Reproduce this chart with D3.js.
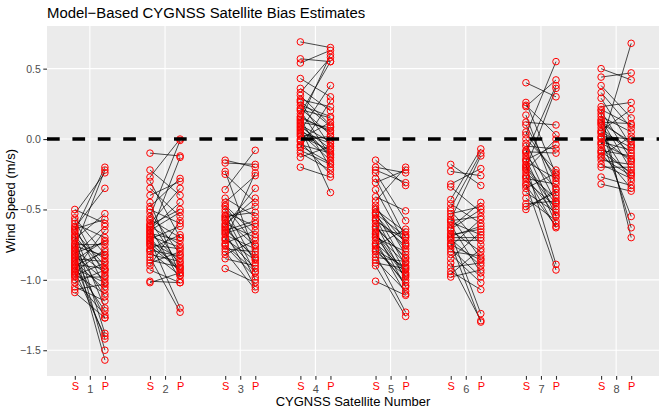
<!DOCTYPE html>
<html><head><meta charset="utf-8">
<script src="https://cdn.jsdelivr.net/npm/d3@7"></script>
<style>body{margin:0;background:#fff}text{font-family:"Liberation Sans",Arial,sans-serif}</style>
</head><body><svg id="c" width="664" height="415"></svg>
<script>
const satellites = [1,2,3,4,5,6,7,8];
const tickLabels = ["S","P"];
// S (satellite) and P (paired) bias estimates per satellite, pairwise
const sVals = [
 [-0.50,-0.53,-0.56,-0.58,-0.60,-0.62,-0.63,-0.65,-0.66,-0.68,-0.70,-0.71,-0.72,-0.74,-0.75,-0.77,-0.78,-0.79,-0.80,-0.82,-0.83,-0.84,-0.85,-0.86,-0.87,-0.88,-0.89,-0.90,-0.91,-0.92,-0.93,-0.95,-0.96,-0.97,-0.98,-1.00,-1.02,-1.05,-1.07,-1.09,-0.76,-0.81,-0.69,-0.94,-0.64],
 [-0.10,-0.22,-0.27,-0.30,-0.35,-0.40,-0.45,-0.48,-0.50,-0.52,-0.55,-0.57,-0.58,-0.60,-0.62,-0.63,-0.65,-0.66,-0.67,-0.68,-0.70,-0.71,-0.72,-0.73,-0.75,-0.76,-0.78,-0.80,-0.82,-0.84,-0.86,-0.88,-0.90,-0.93,-1.01,-1.02,-0.64,-0.69,-0.74,-0.61,-0.79],
 [-0.15,-0.17,-0.23,-0.25,-0.36,-0.42,-0.45,-0.48,-0.50,-0.52,-0.54,-0.56,-0.58,-0.60,-0.62,-0.63,-0.65,-0.66,-0.68,-0.70,-0.72,-0.74,-0.76,-0.78,-0.80,-0.82,-0.85,-0.92,-0.55,-0.61,-0.67,-0.71,-0.47,-0.57,-0.75,-0.64],
 [0.69,0.57,0.54,0.43,0.36,0.33,0.31,0.28,0.26,0.24,0.22,0.20,0.18,0.16,0.14,0.12,0.10,0.08,0.06,0.04,0.03,0.02,0.00,-0.02,-0.04,-0.06,-0.08,-0.10,-0.13,-0.20,0.15,0.11,0.05,-0.01,0.21,0.09,0.27,-0.05,0.13,0.07],
 [-0.15,-0.20,-0.22,-0.24,-0.28,-0.31,-0.36,-0.41,-0.44,-0.47,-0.50,-0.52,-0.54,-0.56,-0.58,-0.60,-0.62,-0.64,-0.66,-0.68,-0.70,-0.72,-0.74,-0.76,-0.78,-0.80,-0.82,-0.84,-0.86,-0.88,-0.90,-1.01,-0.57,-0.63,-0.69,-0.75,-0.49,-0.79,-0.53,-0.67],
 [-0.18,-0.23,-0.32,-0.34,-0.43,-0.46,-0.49,-0.51,-0.53,-0.55,-0.57,-0.59,-0.61,-0.63,-0.65,-0.67,-0.69,-0.71,-0.72,-0.74,-0.76,-0.78,-0.80,-0.82,-0.85,-0.88,-0.91,-0.94,-0.96,-0.98,-0.64,-0.70,-0.58,-0.75,-0.68],
 [0.40,0.26,0.24,0.23,0.17,0.12,0.10,0.03,0.00,-0.03,-0.05,-0.08,-0.10,-0.12,-0.14,-0.16,-0.18,-0.20,-0.22,-0.24,-0.26,-0.28,-0.30,-0.32,-0.35,-0.38,-0.42,-0.46,-0.48,-0.50,-0.15,-0.21,-0.09,-0.27,0.05,-0.33,-0.19],
 [0.50,0.44,0.38,0.33,0.29,0.23,0.20,0.18,0.16,0.14,0.12,0.10,0.08,0.06,0.04,0.02,0.00,-0.02,-0.04,-0.06,-0.08,-0.10,-0.12,-0.15,-0.18,-0.20,-0.27,-0.32,0.11,0.05,-0.03,0.21,-0.09,0.13,0.01,-0.13]
];
const pVals = [
 [-0.60,-0.24,-0.82,-0.97,-0.70,-1.05,-0.35,-0.20,-0.90,-1.20,-1.38,-0.53,-0.85,-1.50,-0.75,-0.22,-1.12,-0.95,-1.57,-0.62,-1.00,-1.27,-0.87,-0.72,-1.07,-1.42,-0.92,-0.80,-1.22,-1.02,-0.65,-0.78,-1.10,-0.88,-0.98,-1.25,-0.93,-1.15,-1.03,-1.27,-0.83,-0.73,-0.93,-1.40,-0.57],
 [-0.12,-0.40,0.00,-0.70,-0.55,-0.30,-0.97,-0.28,-0.60,-0.82,-0.01,-0.70,-0.90,-0.35,-0.75,-1.00,-0.52,-0.88,-0.72,-0.13,-0.95,-0.62,-1.20,-0.85,-0.78,-0.93,-0.68,-0.97,-0.87,-1.23,-0.91,-0.80,-0.58,-1.02,-1.02,-0.95,-0.45,-0.77,-0.92,-0.50,-0.83],
 [-0.20,-0.18,-0.82,-0.45,-0.08,-0.55,-0.26,-0.75,-0.88,-0.62,-0.95,-0.48,-1.00,-0.70,-0.35,-0.85,-0.58,-1.05,-0.78,-0.92,-0.24,-0.65,-0.98,-0.80,-1.07,-0.72,-0.90,-1.02,-0.52,-0.42,-0.60,-0.86,-0.68,-0.76,-0.94,-0.84],
 [0.65,0.55,0.63,0.30,0.20,0.58,0.10,0.23,-0.05,0.16,0.03,-0.12,0.55,0.05,-0.20,0.08,-0.02,-0.38,0.38,-0.15,0.00,-0.08,0.12,-0.25,-0.10,0.27,-0.18,-0.22,-0.05,-0.27,0.06,-0.13,-0.03,0.02,0.15,-0.07,0.09,-0.17,0.60,-0.11],
 [-0.33,-0.24,-0.31,-0.58,-0.70,-0.22,-0.75,-0.51,-0.20,-0.82,-0.66,-0.90,-0.78,-0.95,-0.72,-1.00,-0.85,-0.68,-1.05,-0.88,-0.80,-1.10,-0.93,-0.64,-1.02,-0.97,-1.23,-0.87,-1.08,-0.92,-1.26,-1.11,-0.76,-0.84,-0.98,-1.04,-0.74,-0.91,-0.69,-0.96],
 [-0.33,-0.26,-0.21,-0.52,-0.07,-0.60,-0.10,-0.75,-0.48,-0.85,-0.12,-0.68,-0.95,-0.45,-0.80,-1.24,-0.62,-0.90,-0.72,-1.30,-0.57,-0.98,-0.83,-1.02,-0.66,-1.29,-0.88,-1.07,-0.78,-0.93,-0.50,-0.70,-0.55,-0.86,-0.64],
 [0.30,-0.25,0.03,0.42,-0.40,0.10,-0.30,0.55,-0.22,-0.45,-0.07,-0.55,0.38,-0.35,-0.60,-0.28,-0.89,-0.50,0.00,-0.42,-0.63,-0.32,-0.48,-0.93,-0.24,-0.52,-0.58,-0.44,-0.38,-0.36,-0.04,0.36,-0.10,-0.54,-0.27,-0.62,-0.46],
 [0.42,0.47,0.15,0.08,-0.05,0.26,-0.15,-0.70,0.05,-0.22,0.11,-0.63,-0.10,0.21,-0.30,0.00,-0.55,-0.08,0.68,-0.25,-0.12,-0.35,0.02,-0.18,-0.28,-0.20,-0.33,-0.37,-0.02,-0.06,-0.14,0.10,-0.24,-0.04,-0.16,-0.26]
];
const yTicks = [0.5, 0.0, -0.5, -1.0, -1.5];
const offset = 0.2;

const svg = d3.select("#c");
const W = 664, H = 415;
const m = {l:47, r:5, t:26, b:39};
const pw = W - m.l - m.r, ph = H - m.t - m.b;

const pairs = [];
satellites.forEach((s,i)=> sVals[i].forEach((v,j)=> pairs.push({sat:s, s:v, p:pVals[i][j]})));
const allY = pairs.flatMap(d=>[d.s,d.p]);
const yMin = d3.min(allY), yMax = d3.max(allY);
const xMin = satellites[0]-offset, xMax = satellites[satellites.length-1]+offset;
const ex = (xMax-xMin)*0.05, ey = (yMax-yMin)*0.05;
const x = d3.scaleLinear().domain([xMin-ex, xMax+ex]).range([m.l, m.l+pw]);
const y = d3.scaleLinear().domain([yMin-ey, yMax+ey]).range([m.t+ph, m.t]);

svg.append("rect").attr("width",W).attr("height",H).attr("fill","#fff");
svg.append("rect").attr("x",m.l).attr("y",m.t).attr("width",pw).attr("height",ph).attr("fill","#EBEBEB");
const g = svg.append("g");
g.selectAll(".hg").data(yTicks).join("line").attr("x1",m.l).attr("x2",m.l+pw)
  .attr("y1",d=>y(d)).attr("y2",d=>y(d)).attr("stroke","#fff").attr("stroke-width",1.1);
g.selectAll(".vg").data(satellites).join("line").attr("y1",m.t).attr("y2",m.t+ph)
  .attr("x1",d=>x(d)).attr("x2",d=>x(d)).attr("stroke","#fff").attr("stroke-width",1.1);

// connecting lines
g.selectAll(".seg").data(pairs).join("line")
  .attr("x1",d=>x(d.sat-offset)).attr("x2",d=>x(d.sat+offset))
  .attr("y1",d=>y(d.s)).attr("y2",d=>y(d.p))
  .attr("stroke","#000").attr("stroke-width",0.7);
const pts = pairs.flatMap(d=>[{x:d.sat-offset,y:d.s},{x:d.sat+offset,y:d.p}]);
g.selectAll(".pt").data(pts).join("circle")
  .attr("cx",d=>x(d.x)).attr("cy",d=>y(d.y)).attr("r",3.3)
  .attr("fill","none").attr("stroke","#FF0000").attr("stroke-width",1);

// dashed zero line
g.append("line").attr("x1",m.l).attr("x2",m.l+pw).attr("y1",y(0)).attr("y2",y(0))
  .attr("stroke","#000").attr("stroke-width",3.6).attr("stroke-dasharray","12.7,12.7");

// y axis
const yAxis = d3.axisLeft(y).tickValues(yTicks).tickSize(3.7).tickPadding(2.5)
  .tickFormat(d=>d3.format(".1f")(d).replace("-","\u2212"));
const ya = svg.append("g").attr("transform",`translate(${m.l},0)`).call(yAxis);
ya.select(".domain").remove();
ya.selectAll("line").attr("stroke","#333").attr("stroke-width",1.1);
ya.selectAll("text").attr("fill","#4D4D4D").style("font-size","10.5px").style("font-family","Liberation Sans, Arial, sans-serif");

// x axis
const xTickVals = satellites.flatMap(s=>[s-offset, s, s+offset]);
const xLab = satellites.flatMap(s=>[tickLabels[0], String(s), tickLabels[1]]);
const xAxis = d3.axisBottom(x).tickValues(xTickVals).tickSize(3.7).tickPadding(2.5)
  .tickFormat((d,i)=>xLab[i]);
const xa = svg.append("g").attr("transform",`translate(0,${m.t+ph})`).call(xAxis);
xa.select(".domain").remove();
xa.selectAll("line").attr("stroke","#333").attr("stroke-width",1.1);
xa.selectAll("text").style("font-size","11px").style("font-family","Liberation Sans, Arial, sans-serif")
  .attr("fill",(d,i)=> i%3===1 ? "#4D4D4D" : "#FF0000")
  .attr("dy",(d,i)=> i%3===1 ? "1.0em" : "0.75em");

svg.append("text").attr("x",m.l+pw/2).attr("y",406).attr("text-anchor","middle")
  .style("font-size","13px").attr("fill","#000").text("CYGNSS Satellite Number");
svg.append("text").attr("transform",`translate(15,${m.t+ph/2}) rotate(-90)`).attr("text-anchor","middle")
  .style("font-size","13px").attr("fill","#000").text("Wind Speed (m/s)");
svg.append("text").attr("x",m.l).attr("y",18).style("font-size","14.9px").attr("fill","#000")
  .text("Model\u2212Based CYGNSS Satellite Bias Estimates");
</script></body></html>
